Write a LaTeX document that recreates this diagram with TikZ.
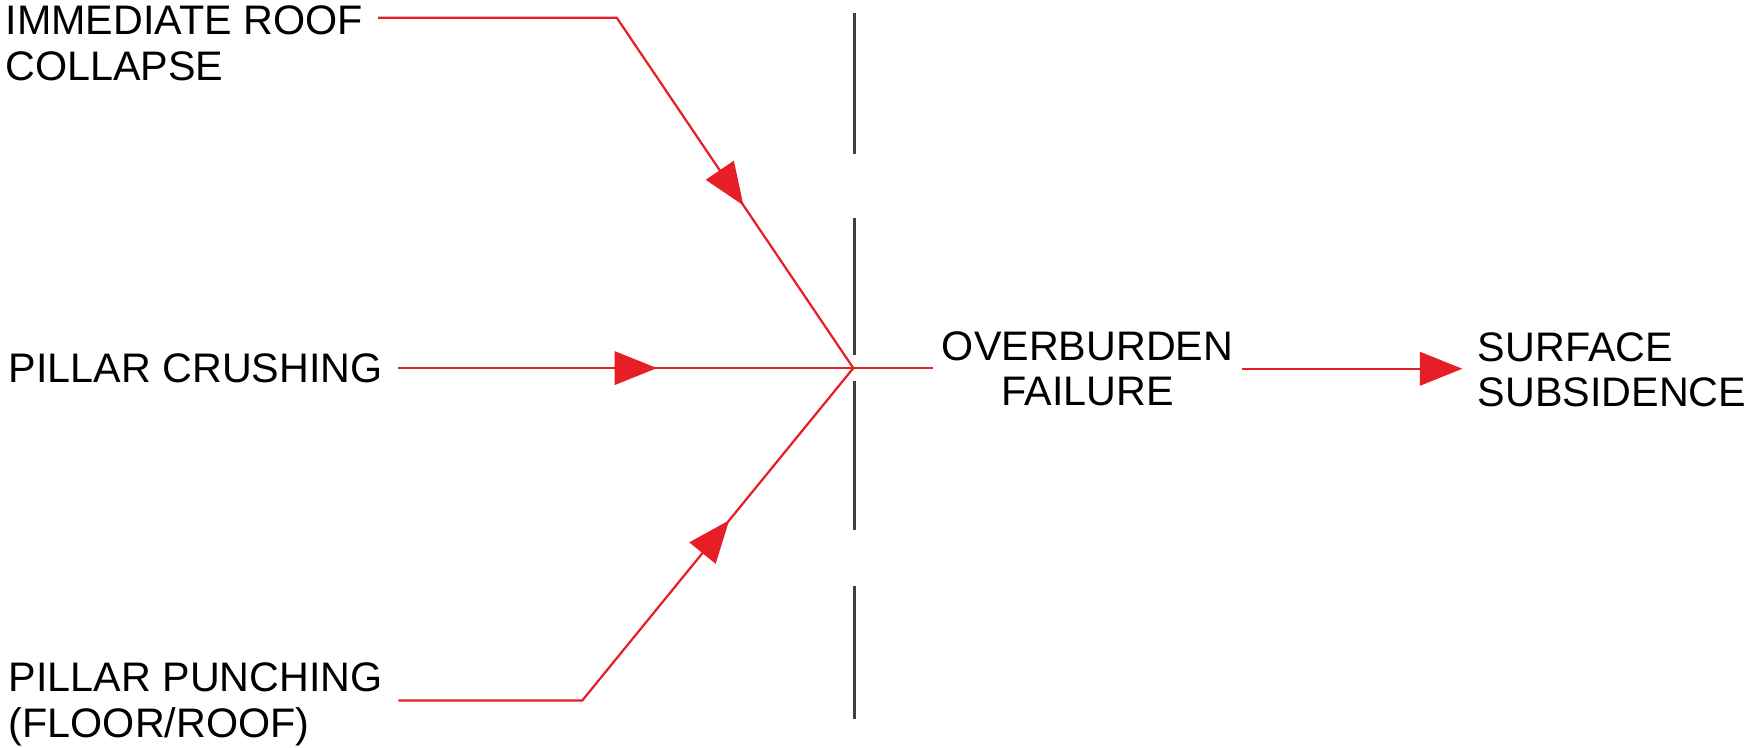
\documentclass[tikz,border=0pt]{standalone}
\usepackage{fontspec}
\setmainfont{Liberation Sans}
\usetikzlibrary{arrows.meta,decorations.markings}
\definecolor{flowred}{RGB}{232,30,38}

\begin{document}
\begin{tikzpicture}[x=0.5pt, y=-0.5pt,
      every node/.append style={font={\fontsize{18.5}{20.5}\selectfont},inner ysep=0pt,outer sep=0pt},
      cause/.style={inner xsep=7pt,align=left},
      result/.style={inner xsep=4pt,align=center},
      flow/.style={draw=flowred,line width=1pt},
      midtip/.style={postaction={decorate},
        decoration={markings,mark=at position -88pt with {\arrow{Triangle[length=19pt,width=15pt]}}}}]
    \tikzstyle{splitline} = [draw=black!75,line width=1pt]
    \useasboundingbox (0,0) rectangle (1568,670);
    \node (roof) [cause,anchor=north west] at (-9,5.5) {IMMEDIATE ROOF\\COLLAPSE};
    \node (crushing) [cause,anchor=west] at (-6,330) {PILLAR CRUSHING};
    \node (punching) [cause,anchor=north west] at (-6,594) {PILLAR PUNCHING\\(FLOOR/ROOF)};
    \node (overburden) [result,anchor=north] at (975,297) {OVERBURDEN\\FAILURE};
    \node (surface) [cause,anchor=north west] at (1311,298) {SURFACE\\SUBSIDENCE};
    \coordinate (hub) at (765,330);
    \coordinate (roofbend) at (553,16);
    \coordinate (punchbend) at (522,628);
    \foreach \a/\b in {12/138,195/318,342/475,525/645}
      \draw [splitline] (766,\a) -- (766,\b);
    \draw [flow,midtip] (roof.east |- roofbend) -- (roofbend) -- (hub);
    \draw [flow,midtip] (crushing) -- (hub);
    \draw [flow,midtip] (punching.east |- punchbend) -- (punchbend) -- (hub);
    \draw [flow] (hub) -- (hub -| overburden.west);
    \draw [flow,-{Triangle[length=19pt,width=15pt]}] (overburden.east) -- (overburden.east -| surface.west);
  \end{tikzpicture}
\end{document}
